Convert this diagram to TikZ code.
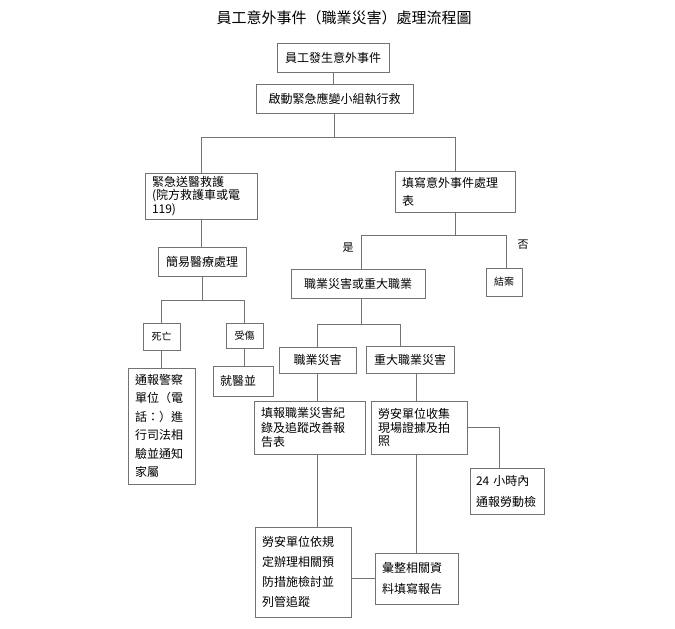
\documentclass[tikz,border=0pt]{standalone}
\usepackage{fontspec}
\setmainfont{Noto Sans CJK TC}
\definecolor{linegray}{RGB}{115,115,115}

\begin{document}
\begin{tikzpicture}[x=1pt,y=-1pt,
  box/.style={draw=linegray, line width=0.8pt, inner xsep=7pt, inner ysep=0pt, align=center, font=\fontsize{12}{18}\selectfont},
  small/.style={box, inner xsep=2pt, font=\fontsize{10}{12}\selectfont},
  link/.style={draw=linegray, line width=0.8pt}]
\useasboundingbox (0,0) rectangle (675,629);

% title
\node (title) at (344,18) {\fontsize{15}{18}\selectfont 員工意外事件（職業災害）處理流程圖};

% top
\node[box, minimum width=112pt, minimum height=29pt] (start) at (333,57.5) {員工發生意外事件};
\node[box, minimum width=157pt, minimum height=29pt] (rescue) at (334.5,98.5) {啟動緊急應變小組執行救};

% left branch
\node[box, text width=98pt, align=left, minimum height=46pt, font=\fontsize{12}{13.5}\selectfont] (hospital) at (201,196) {緊急送醫救護\\(院方救護車或電\\119)};
\node[box, minimum width=88pt, minimum height=29pt] (firstaid) at (202,261.5) {簡易醫療處理};
\node[small, minimum width=37pt, minimum height=27pt] (death) at (161.5,336.5) {死亡};
\node[small, minimum width=37pt, minimum height=25pt] (injury) at (244.5,335.5) {受傷};
\node[box, text width=53pt, align=left, minimum height=116pt, font=\fontsize{12}{18.5}\selectfont] (police) at (161.5,426) {通報警察\\單位（電\\話：）進\\行司法相\\驗並通知\\家屬};
\node[box, text width=46pt, align=left, minimum height=30pt] (clinic) at (243,381) {就醫並};

% right branch
\node[box, text width=106pt, align=left, minimum height=41pt] (report) at (455,191.5) {填寫意外事件處理\\表};
\node[box, minimum width=134pt, minimum height=29pt] (occup) at (358,283.5) {職業災害或重大職業};
\node[small, minimum width=36pt, minimum height=28pt] (close) at (504,282) {結案};
\node (yes) at (348,248) {\fontsize{11}{12}\selectfont 是};
\node (no) at (523,245) {\fontsize{11}{12}\selectfont 否};

\node[box, minimum width=77pt, minimum height=26pt] (accident) at (317.5,360) {職業災害};
\node[box, minimum width=88pt, minimum height=27pt] (major) at (410,359.5) {重大職業災害};
\node[box, text width=97pt, align=left, minimum height=53pt, font=\fontsize{12}{14.5}\selectfont] (record) at (309.5,427.5) {填報職業災害紀\\錄及追蹤改善報\\告表};
\node[box, text width=82pt, align=left, minimum height=53pt, font=\fontsize{12}{13.5}\selectfont] (collect) at (419,427.5) {勞安單位收集\\現場證據及拍\\照};
\node[box, inner xsep=6pt, text width=62pt, align=left, minimum height=46pt, font=\fontsize{12}{21}\selectfont] (notify) at (507,491) {24 小時內\\通報勞動檢};
\node[box, text width=82pt, align=left, minimum height=90pt, font=\fontsize{12}{20}\selectfont] (prevent) at (303,572) {勞安單位依規\\定辦理相關預\\防措施檢討並\\列管追蹤};
\node[box, text width=69pt, align=left, minimum height=51pt, font=\fontsize{12}{21}\selectfont] (compile) at (416.5,578.5) {彙整相關資\\料填寫報告};

% connectors
\draw[link] (start.south) -- (start.south |- rescue.north);
\draw[link] (rescue.south) -- ++(0,24) coordinate (j1) -| (hospital.north);
\draw[link] (j1) -| (report.north);
\draw[link] (hospital.south) -- (hospital.south |- firstaid.north);
\draw[link] (firstaid.south) -- ++(0,24) coordinate (j2) -| (death.north);
\draw[link] (j2) -| (injury.north);
\draw[link] (death.south) -- (death.south |- police.north);
\draw[link] (injury.south) -- (injury.south |- clinic.north);
\draw[link] (report.south) -- ++(0,23) coordinate (j3) -| ([xshift=3pt]occup.north);
\draw[link] (j3) -| ([xshift=2pt]close.north);
\draw[link] ([xshift=3pt]occup.south) -- ++(0,26) coordinate (j4) -| (accident.north);
\draw[link] (j4) -| ([xshift=-10pt]major.north);
\draw[link] (accident.south) -- (accident.south |- record.north);
\draw[link] (major.south -| compile) -- (collect.north -| compile);
\draw[link] (collect.east) -| ([xshift=-8pt]notify.north);
\draw[link] (record.south -| accident) -- (prevent.north -| accident);
\draw[link] (collect.south -| compile) -- (compile.north);
\draw[link] (prevent.east |- compile.west) -- (compile.west);
\end{tikzpicture}
\end{document}
